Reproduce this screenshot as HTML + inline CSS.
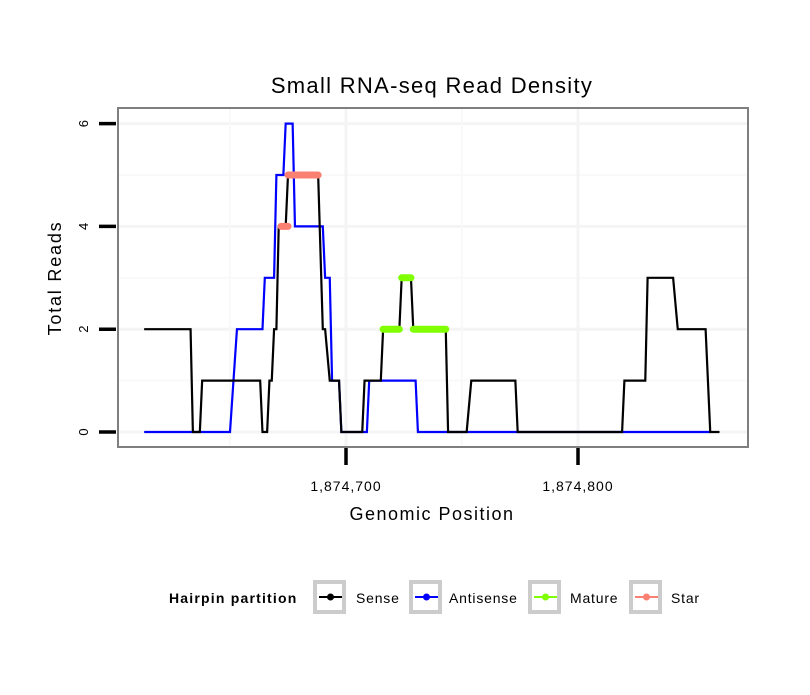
<!DOCTYPE html>
<html><head><meta charset="utf-8"><style>
body{margin:0;background:#fff}
svg text{font-family:"Liberation Sans",sans-serif}
</style></head><body>
<svg id="chart" width="810" height="690" viewBox="0 0 810 690" xmlns="http://www.w3.org/2000/svg">
<rect width="810" height="690" fill="#fff"/>
<text x="432" y="93" font-size="22" letter-spacing="1.3" text-anchor="middle">Small RNA-seq Read Density</text>
<rect x="118" y="108" width="630" height="339" fill="#fff"/>
<g id="grid"></g>
<g id="series"></g>
<rect x="118" y="108" width="630" height="339" fill="none" stroke="#7f7f7f" stroke-width="2"/>
<g id="axes"></g>
<text x="432" y="520" font-size="18" letter-spacing="1.5" text-anchor="middle">Genomic Position</text>
<text transform="translate(61,278) rotate(-90)" font-size="18" letter-spacing="1.8" text-anchor="middle">Total Reads</text>
<g>
<text x="169" y="603" font-size="14" letter-spacing="1.2" font-weight="bold">Hairpin partition</text>
<g id="legend"></g>
</g>
</svg>
<script>
const NS="http://www.w3.org/2000/svg";
const xBase=1874700;
const xTicks=[1874700,1874800];
const xTickLabels=["1,874,700","1,874,800"];
const xMinor=[1874650,1874750];
const yTicks=[0,2,4,6];
const yMinor=[1,3,5];
const sensePos=[-87,-67,-66,-63,-62,-37,-36,-34,-33,-32,-31,-30,-29,-26,-25,-12,-10,-9,-7,-3,-2,7,8,15,16,23,24,28,29,43,44,52,54,73,74,119,120,129,130,141,143,155,157,161];
const senseVal=[2,2,0,0,1,1,0,0,1,1,2,2,4,4,5,5,2,2,1,1,0,0,1,1,2,2,3,3,2,2,0,0,1,1,0,0,1,1,3,3,2,2,0,0];
const antiPos=[-87,-50,-47,-36,-35,-31,-30,-27,-26,-23,-22,-10,-9,-7,-6,-3,-2,9,10,30,31,157];
const antiVal=[0,0,2,2,3,3,5,5,6,6,4,4,3,3,1,1,0,0,1,1,0,0];
const matureStart=[16,24,29];
const matureEnd=[23,28,43];
const matureVal=[2,3,2];
const starStart=[-28,-25];
const starEnd=[-25,-12];
const starVal=[4,5];
const legendLabels=["Sense","Antisense","Mature","Star"];
const legendColors=["#000000","#0000ff","#7fff00","#fa8072"];

const X=p=>346+(p-xBase)*2.32;
const Y=v=>432-v*51.4;
function mk(tag,attrs,parent){const e=document.createElementNS(NS,tag);for(const k in attrs)e.setAttribute(k,attrs[k]);parent.appendChild(e);return e;}
const grid=document.getElementById('grid'),series=document.getElementById('series'),axes=document.getElementById('axes'),legend=document.getElementById('legend');

yMinor.forEach(v=>{const l=mk('line',{x1:119,x2:747,y1:Y(v),y2:Y(v),stroke:'#f9f9f9','stroke-width':2},grid);

});
yTicks.forEach(v=>{const l=mk('line',{x1:119,x2:747,y1:Y(v),y2:Y(v),stroke:'#f4f4f4','stroke-width':3},grid);

});
xMinor.forEach(p=>{const l=mk('line',{x1:X(p),x2:X(p),y1:109,y2:446,stroke:'#f9f9f9','stroke-width':2},grid);

});
xTicks.forEach(p=>{const l=mk('line',{x1:X(p),x2:X(p),y1:109,y2:446,stroke:'#f4f4f4','stroke-width':3},grid);

});

function poly(pos,val,color,name){const pts=pos.map((p,i)=>X(xBase+p)+','+Y(val[i])).join(' ');
const e=mk('polyline',{points:pts,fill:'none',stroke:color,'stroke-width':2.2,'stroke-linejoin':'miter'},series);

}
poly(antiPos,antiVal,'#0000ff','antisense-line');
poly(sensePos,senseVal,'#000000','sense-line');
function segs(s,e,v,color,name){s.forEach((a,i)=>{const l=mk('line',{x1:X(xBase+a),x2:X(xBase+e[i]),y1:Y(v[i]),y2:Y(v[i]),stroke:color,'stroke-width':7,'stroke-linecap':'round'},series);

});}
segs(matureStart,matureEnd,matureVal,'#7fff00','mature-segment');
segs(starStart,starEnd,starVal,'#fa8072','star-segment');

yTicks.forEach(v=>{const t=mk('line',{x1:99,x2:116,y1:Y(v),y2:Y(v),stroke:'#000','stroke-width':3.5},axes);


const tx=mk('text',{transform:`translate(88,${Y(v)}) rotate(-90)`,'font-size':13,'text-anchor':'middle'},axes);tx.textContent=v;

});
xTicks.forEach((p,i)=>{const t=mk('line',{x1:X(p),x2:X(p),y1:448,y2:465,stroke:'#000','stroke-width':3.5},axes);


const tx=mk('text',{x:X(p),y:491,'font-size':14,'letter-spacing':1,'text-anchor':'middle'},axes);tx.textContent=xTickLabels[i];

});

const boxX=[313,409,528,629],textX=[356,449,570,671];
legendLabels.forEach((lab,i)=>{const g=mk('g',{},legend);


mk('rect',{x:boxX[i]+2,y:582,width:29,height:30,fill:'#fff',stroke:'#cccccc','stroke-width':4},g);
mk('line',{x1:boxX[i]+6,x2:boxX[i]+29,y1:597,y2:597,stroke:legendColors[i],'stroke-width':2},g);
mk('circle',{cx:boxX[i]+17.5,cy:597,r:3.5,fill:legendColors[i]},g);
const t=mk('text',{x:textX[i],y:603,'font-size':14,'letter-spacing':0.8},g);t.textContent=lab;});
</script>
</body></html>
